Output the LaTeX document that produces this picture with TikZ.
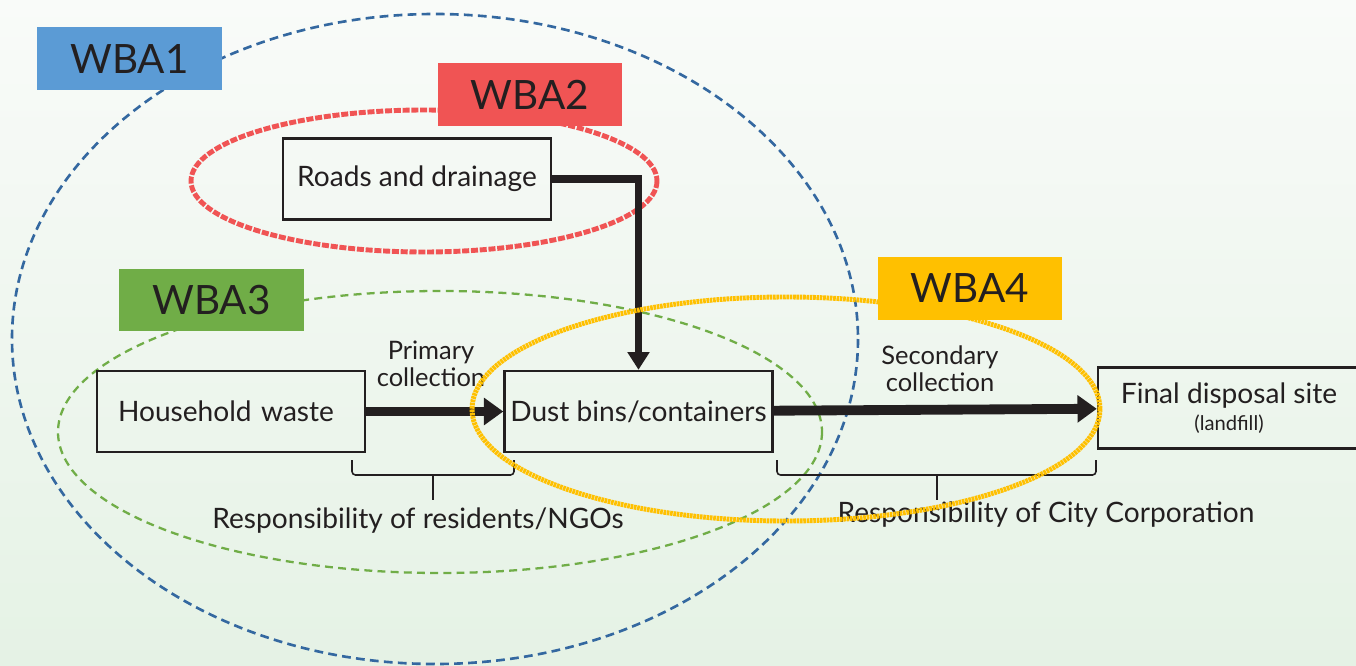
\documentclass[tikz,border=0pt]{standalone}
\usepackage{fontspec}
\setmainfont{Lato}
\usetikzlibrary{arrows.meta}
\usetikzlibrary{calc}
\definecolor{ink}{RGB}{35,31,32}
\definecolor{wbablue}{RGB}{91,155,213}
\definecolor{wbablue-line}{RGB}{52,104,160}
\definecolor{wbared}{RGB}{240,84,84}
\definecolor{wbagreen}{RGB}{112,173,71}
\definecolor{wbayellow}{RGB}{255,192,0}
\definecolor{bgtop}{RGB}{249,251,249}
\definecolor{bgbottom}{RGB}{229,242,229}

\begin{document}
\begin{tikzpicture}[x=0.02cm, y=-0.02cm, ink, font=\fontsize{16}{18}\selectfont,
	block/.style={draw=ink, line width=1.4pt, minimum width=5.36cm, minimum height=1.62cm, inner sep=0pt},
	wba/.style={fill=#1, text=ink, minimum width=3.7cm, minimum height=1.26cm, inner sep=0pt, font=\fontsize{23}{26}\selectfont},
	flow/.style={line width=5.6pt, -{Triangle[length=11pt, width=15pt]}},
	brace/.style={line width=0.9pt, rounded corners=2pt},
	small/.style={align=center, font=\fontsize{14.5}{15.5}\selectfont},
	]

	% background
	\shade[top color=bgtop, bottom color=bgbottom] (0,0) rectangle (1356,666);
	\useasboundingbox (0,0) rectangle (1356,666);

	% areas
	\draw[wbablue-line, line width=1.5pt, dash pattern=on 5pt off 3pt] (435,339) ellipse [x radius=423, y radius=325];
	\draw[wbagreen, line width=1.3pt, dash pattern=on 4.5pt off 3pt] (440,432) ellipse [x radius=382, y radius=141];
	\draw[wbared, line width=2.8pt, dash pattern=on 4pt off 1pt] (424,181) ellipse [x radius=233, y radius=71];

	\node[block] (roads) at (417,179) {Roads and drainage};
	\node[block, text width=5.36cm, align=left] (household) at (231,411.5) {\hspace*{0.42cm}Household waste};
	\node[block] (bins) at (638.5,411.5) {Dust bins/containers};
	\node[block, minimum width=5.24cm, align=center] (disposal) at (1229,408) {Final disposal site\\[-3pt]{\fontsize{11.5}{13}\selectfont(landfill)}};

	\draw[flow] (household) -- (bins);
	\draw[flow] (bins) -- (disposal);
	\draw[line width=4pt, -{Triangle[length=10pt, width=12pt]}] (roads) -| (bins);

	\node[small] (primary) at (431,364) {Primary\\collection};
	\node[small] (secondary) at (940,369) {Secondary\\collection};

	% braces
	\coordinate (resid-tick) at (433,475);
	\coordinate (city-tick) at (937,475);
	\draw[brace] (352,460) -- (352,475) -- (514,475) -- (514,460);
	\draw[brace] (resid-tick) -- ++(0,25);
	\draw[brace] (777,460) -- (777,475) -- (1096,475) -- (1096,460);
	\draw[brace] (city-tick) -- ++(0,25);
	\node (resid) at (418,521) {Responsibility of residents/NGOs};
	\node (city) at (1046,515) {Responsibility of City Corporation};

	\draw[wbayellow, line width=2.8pt, dash pattern=on 1.5pt off 0.4pt] (786,409) ellipse [x radius=314, y radius=112];

	% labels
	\node[wba=wbablue] (wba1) at (129.5,58.5) {WBA1};
	\node[wba=wbared] (wba2) at (530,94.5) {WBA2};
	\node[wba=wbagreen] (wba3) at (211.5,300) {WBA3};
	\node[wba=wbayellow] (wba4) at (970,288.5) {WBA4};

\end{tikzpicture}
\end{document}
